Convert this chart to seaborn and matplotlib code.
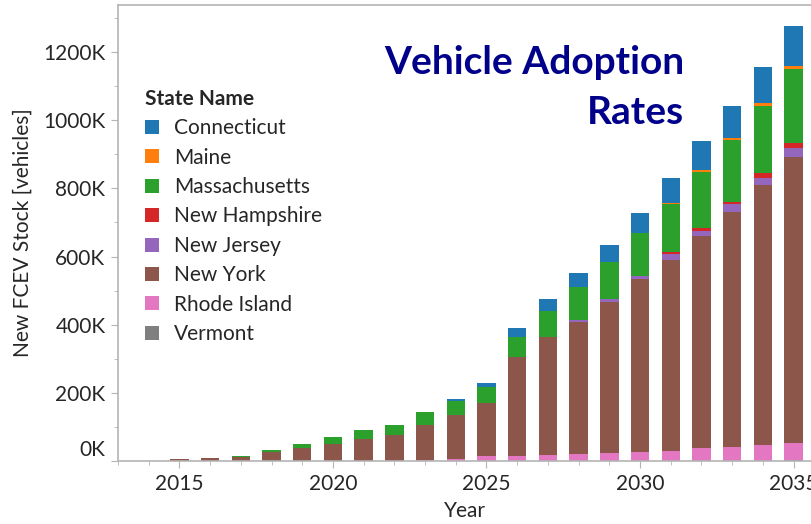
import numpy as np
import pandas as pd
import matplotlib
matplotlib.use('Agg')
import matplotlib.pyplot as plt
import matplotlib.transforms as mtransforms
from matplotlib.ticker import FuncFormatter, MultipleLocator
import seaborn as sns

YEARS = list(range(2015, 2036))
STATES = ['Connecticut', 'Maine', 'Massachusetts', 'New Hampshire',
          'New Jersey', 'New York', 'Rhode Island', 'Vermont']
COLORS = ['#1f77b4', '#ff7f0e', '#2ca02c', '#d62728',
          '#9467bd', '#8c564b', '#e377c2', '#7f7f7f']

# new FCEV stock per state, thousands of vehicles, 2015..2035
connecticut = [0, 0, 0, 0, 0, 0, 0, 0, 0, 6, 11, 26, 37, 41, 50, 59, 74, 86, 95, 106, 115]
maine = [0, 0, 0, 0, 0, 0, 0, 0, 0, 0, 0, 0, 0, 0, 0, 0, 3, 6, 5, 8, 9]
massachusetts = [0, 0, 3, 5, 11, 20, 26, 30, 38, 41, 49, 61, 76, 97, 109, 126, 140, 163, 182, 197, 217]
new_hampshire = [0, 0, 0, 0, 0, 0, 0, 0, 0, 0, 0, 0, 0, 0, 0, 0, 8, 9, 8, 15, 15]
new_jersey = [0, 0, 0, 0, 0, 0, 0, 0, 0, 0, 0, 0, 0, 6, 6, 9, 15, 15, 21, 21, 26]
new_york = [6, 9, 12, 27, 39, 51, 65, 76, 104, 129, 154, 289, 345, 388, 444, 506, 562, 623, 691, 763, 840]
rhode_island = [0, 0, 0, 0, 0, 0, 0, 0, 2, 6, 15, 15, 18, 21, 24, 27, 29, 38, 41, 47, 50]
vermont = [0, 0, 0, 0, 0, 0, 0, 0, 0, 0, 0, 0, 0, 0, 0, 0, 0, 0, 0, 0, 3]

series = [connecticut, maine, massachusetts, new_hampshire,
          new_jersey, new_york, rhode_island, vermont]

rows = []
for state, vals in zip(STATES, series):
    for yr, v in zip(YEARS, vals):
        rows.append({'Year': yr, 'State Name': state, 'Stock': v * 1000})
df = pd.DataFrame(rows)

sns.set_style('ticks')
plt.rcParams['font.family'] = ['Lato', 'DejaVu Sans']

fig = plt.figure(figsize=(8.12, 5.24), dpi=100)
ax = fig.add_axes([118 / 812, 63 / 524, 1 - 118 / 812, 456 / 524])

sns.histplot(data=df, x='Year', weights='Stock', hue='State Name',
             hue_order=STATES, palette=COLORS, multiple='stack',
             discrete=True, shrink=0.6, alpha=1, linewidth=0, ax=ax)

ax.set_xlim(2013, 2035.6)
ax.set_ylim(0, 1338000)

ax.xaxis.set_major_locator(MultipleLocator(5))
ax.xaxis.set_minor_locator(MultipleLocator(1))
ax.yaxis.set_major_locator(MultipleLocator(200000))
ax.yaxis.set_minor_locator(MultipleLocator(100000))
ax.yaxis.set_major_formatter(FuncFormatter(lambda v, p: f'{v / 1000:.0f}K'))

gray = '#b4b4b4'
for side in ['left', 'bottom', 'top']:
    ax.spines[side].set_color(gray)
    ax.spines[side].set_linewidth(1.2)
ax.spines['right'].set_visible(False)
ax.tick_params(which='major', length=5, color=gray, labelsize=15, pad=4)
ax.tick_params(which='minor', length=3, color=gray)

ax.set_xlabel('Year', fontsize=15, va='center')
ax.set_ylabel('New FCEV Stock [vehicles]', fontsize=15, va='center')
ax.xaxis.set_label_coords(0.5, (461 - 511) / 456)
ax.yaxis.set_label_coords((23 - 118) / 694, 0.5)

sns.move_legend(ax, loc='upper left', bbox_to_anchor=(145 / 812, 1 - 89 / 524),
                bbox_transform=fig.transFigure, frameon=False,
                title='State Name', fontsize=15, title_fontsize=15,
                handlelength=0.65, handleheight=0.65, handletextpad=0.75,
                labelspacing=0.45, borderpad=0, borderaxespad=0)
leg = ax.get_legend()
leg.get_title().set_fontweight('bold')
leg._legend_box.align = 'left'

fig.text(684 / 812, 1 - 45 / 524, 'Vehicle Adoption\nRates', ha='right', va='top',
         multialignment='right', fontsize=28, fontweight='bold', color='#00008b',
         linespacing=1.5)

# lift the 0K label off the x axis like the original
fig.canvas.draw()
shift = mtransforms.ScaledTranslation(0, 13 / 100, fig.dpi_scale_trans)
for tick in ax.yaxis.get_major_ticks():
    if abs(tick.get_loc()) < 1:
        tick.label1.set_transform(tick.label1.get_transform() + shift)

fig.savefig('out.png', dpi=100)
